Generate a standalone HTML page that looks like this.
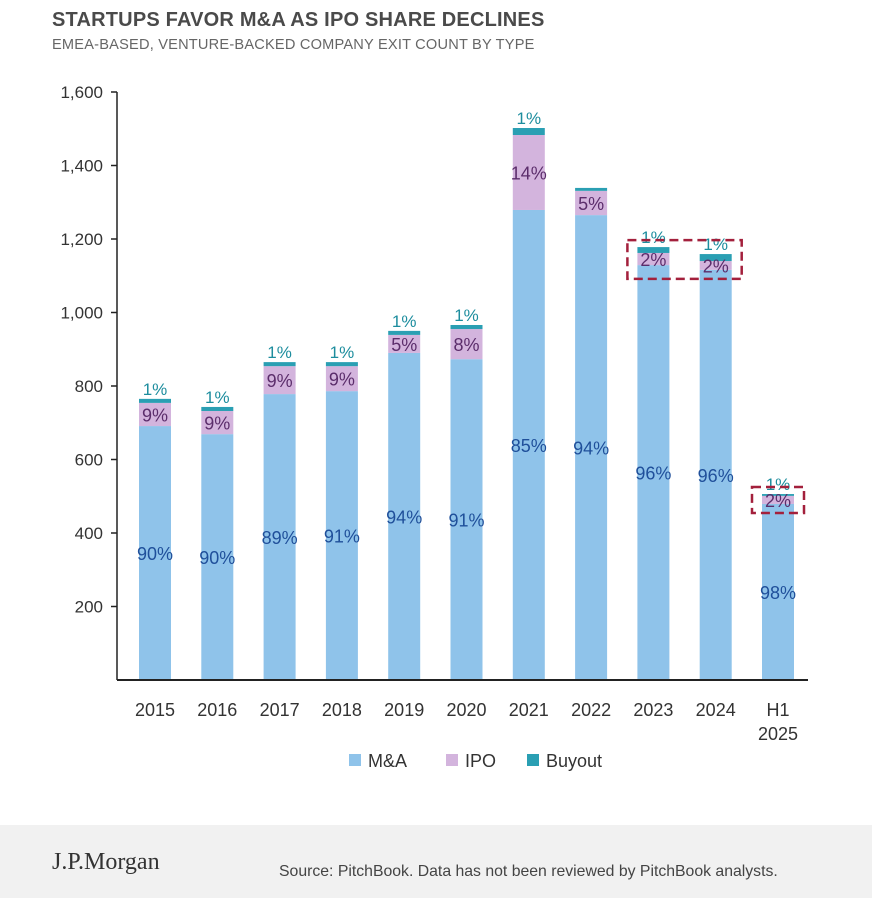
<!DOCTYPE html>
<html><head><meta charset="utf-8">
<style>
body{margin:0;background:#fff;font-family:"Liberation Sans",sans-serif;}
#wrap{position:relative;width:872px;height:898px;overflow:hidden;}
.t{position:absolute;left:52px;top:9px;font-size:20px;font-weight:bold;color:#4a4a4a;letter-spacing:0.2px}
.s{position:absolute;left:52px;top:37px;font-size:14.6px;color:#666;letter-spacing:0.2px}
.foot{position:absolute;left:0;top:825px;width:872px;height:73px;background:#f1f1f1}
</style></head><body>
<div id="wrap">
<div class="t">STARTUPS FAVOR M&amp;A AS IPO SHARE DECLINES</div>
<div class="s">EMEA-BASED, VENTURE-BACKED COMPANY EXIT COUNT BY TYPE</div>
<svg id="chart" width="872" height="898" style="position:absolute;left:0;top:0"></svg>
<div class="foot">
<div style="position:absolute;left:52px;top:24px;font-family:'Liberation Serif',serif;font-size:24px;color:#333">J.P.Morgan</div>
<div style="position:absolute;left:279px;top:38px;font-size:15.8px;color:#444">Source: PitchBook. Data has not been reviewed by PitchBook analysts.</div>
</div>
</div>
<script>
const categories=["2015","2016","2017","2018","2019","2020","2021","2022","2023","2024","H1|2025"];
const maValues=[691,669,778,786,890,873,1279,1265,1129,1116,479];
const ipoValues=[63,63,76,68,49,82,204,66,33,24,22];
const buyoutValues=[11,11,11,11,11,11,19,8,16,19,5];
const maLabels=["90%","90%","89%","91%","94%","91%","85%","94%","96%","96%","98%"];
const ipoLabels=["9%","9%","9%","9%","5%","8%","14%","5%","2%","2%","2%"];
const buyoutLabels=["1%","1%","1%","1%","1%","1%","1%","","1%","1%","1%"];
const yTicks=[200,400,600,800,1000,1200,1400,1600];
const highlighted=[[8,9],[10,10]];

const svg=document.getElementById('chart');
const NS="http://www.w3.org/2000/svg";
const x0=117,x1=808,y0=680,yTop=92,yMax=1600;
const y=v=>y0-v*(y0-yTop)/yMax;
const step=62.3,first=155,bw=32;
const cx=i=>first+i*step;
function mk(tag,attrs,txt){const e=document.createElementNS(NS,tag);for(const k in attrs)e.setAttribute(k,attrs[k]);if(txt!=null)e.textContent=txt;svg.appendChild(e);return e;}
const fam='"Liberation Sans",sans-serif';
yTicks.forEach(v=>{
  const t=mk('text',{x:103,y:y(v)+6,'text-anchor':'end','font-size':17,fill:'#333','font-family':fam},v.toLocaleString('en-US'));
  
  
  const l=mk('line',{x1:111,x2:x0,y1:y(v),y2:y(v),stroke:'#222','stroke-width':1.5});
  
  
});
categories.forEach((c,i)=>{
  const x=cx(i)-bw/2;
  const m=maValues[i],p=ipoValues[i],b=buyoutValues[i];
  const r1=mk('rect',{x:x,y:y(m),width:bw,height:y0-y(m),fill:'#8fc3ea'});
  
  
  const r2=mk('rect',{x:x,y:y(m+p),width:bw,height:y(m)-y(m+p),fill:'#d3b4dd'});
  
  
  const r3=mk('rect',{x:x,y:y(m+p+b),width:bw,height:y(m+p)-y(m+p+b),fill:'#2a9fb3'});
  
  
  const l1=mk('text',{x:cx(i),y:y(m/2)+7,'text-anchor':'middle','font-size':18,fill:'#1f4f9a','font-family':fam},maLabels[i]);
  
  
  const l2=mk('text',{x:cx(i),y:y(m+p/2)+7,'text-anchor':'middle','font-size':18,fill:'#5b2d6b','font-family':fam},ipoLabels[i]);
  
  
  const l3=mk('text',{x:cx(i),y:y(m+p+b)-4,'text-anchor':'middle','font-size':17,fill:'#1d8d9e','font-family':fam},buyoutLabels[i]);
  
  
  c.split('|').forEach((part,k)=>{
    const t=mk('text',{x:cx(i),y:716+k*24,'text-anchor':'middle','font-size':18,fill:'#333','font-family':fam},part);
    
    
  });
});
highlighted.forEach(([a,b2])=>{
  let top=Infinity;for(let i=a;i<=b2;i++)top=Math.min(top,y(maValues[i]+ipoValues[i]+buyoutValues[i]));
  let bot=-Infinity;for(let i=a;i<=b2;i++)bot=Math.max(bot,y(maValues[i]));
  const r=mk('rect',{x:cx(a)-26,y:top-7,width:cx(b2)-cx(a)+52,height:bot-top+16,fill:'none',stroke:'#a3203c','stroke-width':2.5,'stroke-dasharray':'9,5'});
  
  
});
const ax=mk('line',{x1:x0,x2:x0,y1:yTop,y2:y0,stroke:'#222','stroke-width':1.5});


const bx=mk('line',{x1:x0,x2:x1,y1:y0,y2:y0,stroke:'#222','stroke-width':2});


const legend=[["M&A","#8fc3ea",349],["IPO","#d3b4dd",446],["Buyout","#2a9fb3",527]];
legend.forEach(([n,col,lx])=>{
  const r=mk('rect',{x:lx,y:754,width:12,height:12,fill:col});
  
  
  const t=mk('text',{x:lx+19,y:767,'font-size':18,fill:'#333','font-family':fam},n);
  
  
});
</script>
</body></html>
